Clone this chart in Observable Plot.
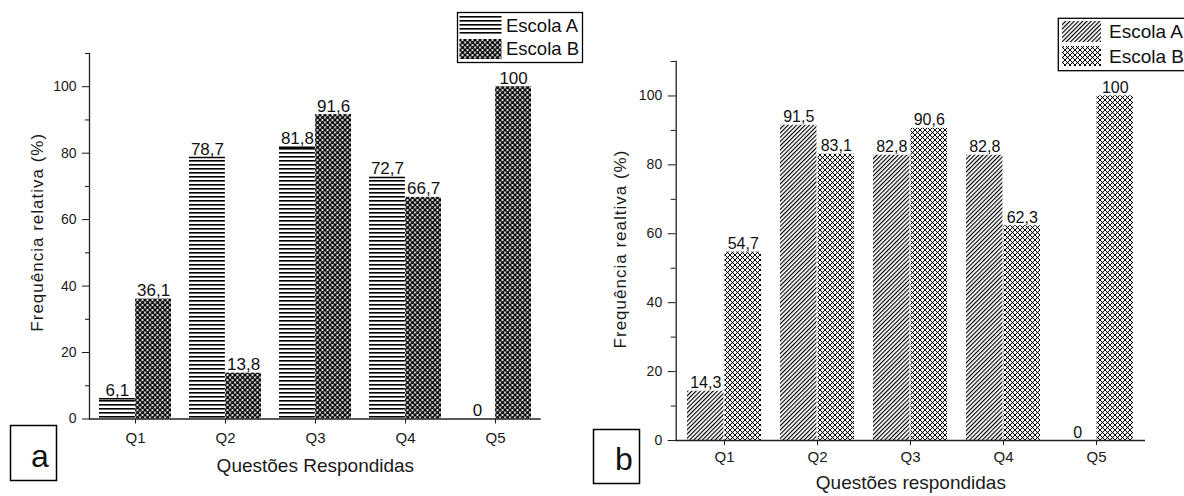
<!DOCTYPE html>
<html><head><meta charset="utf-8">
<script src="https://cdn.jsdelivr.net/npm/d3@7"></script>
<script src="https://cdn.jsdelivr.net/npm/@observablehq/plot@0.6"></script>
<style>
body{margin:0;background:#fff;width:1184px;height:496px;overflow:hidden;position:relative;font-family:"Liberation Sans",Arial,sans-serif;}
#left{position:absolute;left:0;top:0;}
#right{position:absolute;left:590px;top:0;}
#overlay{position:absolute;left:0;top:0;pointer-events:none;}
</style>
</head><body>
<svg width="0" height="0" style="position:absolute">
<defs>
<pattern id="hlines" patternUnits="userSpaceOnUse" width="8" height="4">
  <rect width="8" height="4" fill="#fff"/><rect y="0" width="8" height="1.6" fill="#000"/>
</pattern>
<pattern id="balls" patternUnits="userSpaceOnUse" width="5" height="5">
  <rect width="5" height="5" fill="#fff"/>
  <circle cx="0" cy="0" r="1.75" fill="#000"/><circle cx="5" cy="0" r="1.75" fill="#000"/>
  <circle cx="0" cy="5" r="1.75" fill="#000"/><circle cx="5" cy="5" r="1.75" fill="#000"/>
  <circle cx="2.5" cy="2.5" r="1.75" fill="#000"/>
  <circle cx="2.0" cy="2.0" r="0.45" fill="#fff"/>
</pattern>
<pattern id="diag" patternUnits="userSpaceOnUse" width="3" height="3" patternTransform="rotate(45)">
  <rect width="3" height="3" fill="#fff"/><rect width="1.15" height="3" fill="#000"/>
</pattern>
<pattern id="xhatch" patternUnits="userSpaceOnUse" width="5" height="5">
  <rect width="5" height="5" fill="#fff"/>
  <path d="M0,0L5,5M5,0L0,5" stroke="#000" stroke-width="1"/>
  <circle cx="2.5" cy="2.5" r="0.8" fill="#000"/>
</pattern>
</defs>
</svg>
<div id="left"></div><div id="right"></div>
<svg id="overlay" width="1184" height="496"></svg>
<script>
const categories = ["Q1", "Q2", "Q3", "Q4", "Q5"];
const schools = ["Escola A", "Escola B"];
const leftA = [6.1, 78.7, 81.8, 72.7, 0];
const leftB = [36.1, 13.8, 91.6, 66.7, 100];
const rightA = [14.3, 91.5, 82.8, 82.8, 0];
const rightB = [54.7, 83.1, 90.6, 62.3, 100];
const yTicks = [0, 20, 40, 60, 80, 100];
const yMinorTicks = [10, 30, 50, 70, 90, 110];
const leftXLabel = "Questões Respondidas";
const leftYLabel = "Frequência relativa (%)";
const rightXLabel = "Questões respondidas";
const rightYLabel = "Frequência realtiva (%)";
const panelLabels = ["a", "b"];

const FONT = "'Liberation Sans', Arial, sans-serif";
const fmt = v => String(v).replace(".", ",");

function panel(cfg) {
  const frameW = cfg.width - cfg.marginLeft - cfg.marginRight;
  const half = frameW / 5 * 0.8 / 2;
  const rows = (vals, school) => vals.map((v, i) => ({q: categories[i], school, value: v}));
  const A = rows(cfg.a, schools[0]), B = rows(cfg.b, schools[1]);
  const svg = Plot.plot({
    width: cfg.width, height: 496,
    marginLeft: cfg.marginLeft, marginRight: cfg.marginRight,
    marginTop: cfg.marginTop, marginBottom: cfg.marginBottom,
    style: {fontFamily: FONT, fontSize: "14px", background: "transparent", color: "#1a1a1a", overflow: "visible"},
    x: {type: "band", domain: categories, paddingInner: 0.2, paddingOuter: 0.1},
    y: {domain: [0, 110]},
    marks: [
      Plot.barY(A, {x: "q", y: "value", fill: cfg.patA, insetRight: half}),
      Plot.barY(B, {x: "q", y: "value", fill: cfg.patB, insetLeft: half}),
      cfg.topLine ? Plot.tickY(A.filter(d => d.value > 0), {x: "q", y: "value", insetRight: half, stroke: "#000", strokeWidth: 1.4}) : null,
      Plot.text(A, {x: "q", y: "value", text: d => fmt(d.value), dx: -half / 2, dy: -3, lineAnchor: "bottom", fontSize: cfg.valueFont, fill: "#111"}),
      Plot.text(B, {x: "q", y: "value", text: d => fmt(d.value), dx: half / 2, dy: -3, lineAnchor: "bottom", fontSize: cfg.valueFont, fill: "#111"}),
      Plot.ruleY([0], {stroke: "#222", strokeWidth: 1.3}),
      Plot.frame({anchor: "left", stroke: "#222", strokeWidth: 1.3}),
      Plot.axisY({ticks: yTicks, tickSize: cfg.ySize, tickPadding: cfg.yPad, label: null, fontSize: 14}),
      Plot.axisY({ticks: yMinorTicks, tickSize: cfg.yMinor, tickFormat: () => "", label: null}),
      Plot.axisX({tickSize: 5, tickPadding: cfg.xPad, label: null, fontSize: 15}),
      Plot.text([cfg.xLabel], {text: d => d, frameAnchor: "bottom", textAnchor: "middle", dy: cfg.xLabelDy, fontSize: 19, lineAnchor: "middle", fill: "#1a1a1a"}),
      Plot.text([cfg.yLabel], {text: d => d, frameAnchor: "left", textAnchor: "middle", rotate: -90, dx: cfg.yLabelDx, dy: cfg.yLabelDy, fontSize: 17, lineAnchor: "middle", fill: "#1a1a1a"})
    ]
  });
  d3.select(svg).selectAll("text").filter(function() { return this.textContent === cfg.yLabel; })
    .attr("letter-spacing", "1");
  return svg;
}

document.getElementById("left").append(panel({
  width: 590, marginLeft: 89, marginRight: 49.3, marginTop: 53, marginBottom: 77.5,
  a: leftA, b: leftB, patA: "url(#hlines)", patB: "url(#balls)", valueFont: 17, topLine: true,
  ySize: 7, yPad: 6, yMinor: 4, xPad: 8,
  xLabel: leftXLabel, yLabel: leftYLabel, xLabelDy: 46.5, yLabelDx: -52, yLabelDy: -4
}));
document.getElementById("right").append(panel({
  width: 594, marginLeft: 85.7, marginRight: 39, marginTop: 61, marginBottom: 56,
  a: rightA, b: rightB, patA: "url(#diag)", patB: "url(#xhatch)", valueFont: 16, topLine: false,
  ySize: 8, yPad: 6, yMinor: 5, xPad: 6,
  xLabel: rightXLabel, yLabel: rightYLabel, xLabelDy: 42, yLabelDx: -56, yLabelDy: -2
}));

// Legends and panel labels
const ov = d3.select("#overlay");
function legend(x, y, w, h, swA, swB, fontSize, texts) {
  const g = ov.append("g");
  g.append("rect").attr("x", x).attr("y", y).attr("width", w).attr("height", h)
    .attr("fill", "#fff").attr("stroke", "#000").attr("stroke-width", 1.3);
  [swA, swB].forEach((s, i) => {
    g.append("rect").attr("x", s.x).attr("y", s.y).attr("width", s.w).attr("height", s.h).attr("fill", s.fill);
    g.append("text").attr("x", texts[i].x).attr("y", texts[i].y).attr("font-size", fontSize)
      .attr("font-family", FONT).attr("fill", "#111").text(schools[i]);
  });
}
legend(457.5, 12.5, 125, 50,
  {x: 459.5, y: 15, w: 42, h: 20, fill: "url(#hlines)"},
  {x: 459.5, y: 39, w: 42, h: 20, fill: "url(#balls)"}, 18.5,
  [{x: 506, y: 32.3}, {x: 506, y: 55}]);
legend(1058.3, 18.3, 160, 52.4,
  {x: 1062, y: 21, w: 39, h: 21, fill: "url(#diag)"},
  {x: 1062, y: 46, w: 39, h: 20, fill: "url(#xhatch)"}, 19,
  [{x: 1109, y: 38.3}, {x: 1109, y: 63.3}]);

function boxLabel(x, y, w, h, tx, ty, t) {
  ov.append("rect").attr("x", x).attr("y", y).attr("width", w).attr("height", h)
    .attr("fill", "#fff").attr("stroke", "#000").attr("stroke-width", 1.5);
  ov.append("text").attr("x", tx).attr("y", ty).attr("font-size", 32).attr("text-anchor", "middle")
    .attr("font-family", FONT).attr("fill", "#111").text(t);
}
boxLabel(10.5, 425.5, 46, 55, 40, 466.5, panelLabels[0]);
boxLabel(593.5, 429.5, 46, 54, 624, 470, panelLabels[1]);
</script>
</body></html>
